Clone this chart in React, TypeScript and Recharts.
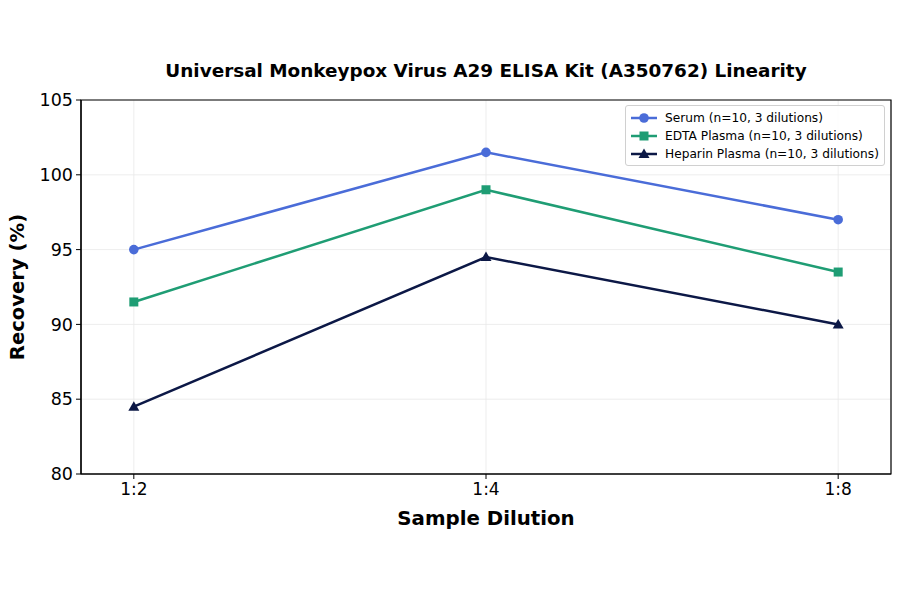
import {
  CartesianGrid,
  Label,
  Legend,
  Line,
  LineChart,
  ReferenceArea,
  XAxis,
  YAxis,
} from "recharts";

const DILUTIONS = ["1:2", "1:4", "1:8"];
const SERUM = [95, 101.5, 97];
const EDTA = [91.5, 99, 93.5];
const HEPARIN = [84.5, 94.5, 90];
const Y_TICKS = [80, 85, 90, 95, 100, 105];

const SERIES = [
  { key: "serum", name: "Serum (n=10, 3 dilutions)", color: "#4a6cd8", marker: "circle" },
  { key: "edta", name: "EDTA Plasma (n=10, 3 dilutions)", color: "#1f9d74", marker: "square" },
  { key: "heparin", name: "Heparin Plasma (n=10, 3 dilutions)", color: "#0c1846", marker: "triangle" },
];

// x is the category index; labels come from DILUTIONS
const DATA = DILUTIONS.map((d, i) => ({
  x: i,
  serum: SERUM[i],
  edta: EDTA[i],
  heparin: HEPARIN[i],
}));
const X_MIN = -0.15;
const X_MAX = DILUTIONS.length - 1 + 0.15;

const FONT = "'DejaVu Sans', sans-serif";

function Marker({ cx, cy, color, kind }: { cx: number; cy: number; color: string; kind: string }) {
  if (kind === "square")
    return <rect x={cx - 4.5} y={cy - 4.5} width={9} height={9} fill={color} />;
  if (kind === "triangle")
    return (
      <polygon
        points={`${cx},${cy - 5.5} ${cx - 5.5},${cy + 4} ${cx + 5.5},${cy + 4}`}
        fill={color}
      />
    );
  return <circle cx={cx} cy={cy} r={4.8} fill={color} />;
}

function LegendBox() {
  return (
    <div
      style={{
        display: "inline-block",
        border: "1px solid #d0d0d0",
        borderRadius: 3,
        background: "rgba(255,255,255,0.85)",
        padding: "3px 5px 2px 5px",
        fontFamily: FONT,
        fontSize: 12.2,
        color: "#000",
        whiteSpace: "nowrap",
      }}
    >
      {SERIES.map((s) => (
        <div key={s.key} style={{ display: "flex", alignItems: "center", height: 18 }}>
          <svg width={26} height={14} style={{ marginRight: 8 }}>
            <line x1={0} y1={7} x2={26} y2={7} stroke={s.color} strokeWidth={2.5} />
            <Marker cx={13} cy={7} color={s.color} kind={s.marker} />
          </svg>
          <span>{s.name}</span>
        </div>
      ))}
    </div>
  );
}

export default function App() {
  return (
    <div style={{ position: "relative", width: 900, height: 594, background: "#fff" }}>
      <style>{`body{margin:0}`}</style>
      <div
        style={{
          position: "absolute",
          left: 81,
          width: 810,
          top: 60,
          textAlign: "center",
          fontFamily: FONT,
          fontWeight: "bold",
          fontSize: 18.4,
          color: "#000",
          whiteSpace: "nowrap",
        }}
      >
        Universal Monkeypox Virus A29 ELISA Kit (A350762) Linearity
      </div>
      <LineChart
        width={900}
        height={594}
        data={DATA}
        margin={{ top: 100, right: 9, bottom: 0, left: 0 }}
        style={{ fontFamily: FONT }}
      >
        <CartesianGrid stroke="#e8e8e8" strokeWidth={0.8} />
        <XAxis
          dataKey="x"
          type="number"
          domain={[X_MIN, X_MAX]}
          ticks={DILUTIONS.map((_, i) => i)}
          tickFormatter={(v: number) => DILUTIONS[v] ?? ""}
          allowDataOverflow
          height={120}
          tickSize={5}
          tickMargin={4}
          tick={{ fill: "#000", fontSize: 17 }}
          axisLine={{ stroke: "#000", strokeWidth: 1.2 }}
          tickLine={{ stroke: "#000" }}
        >
          <Label
            value="Sample Dilution"
            position="insideTop"
            offset={37}
            style={{ fontWeight: "bold", fontSize: 19.8, fill: "#000" }}
          />
        </XAxis>
        <YAxis
          domain={[80, 105]}
          ticks={Y_TICKS}
          width={81}
          tickSize={5}
          tickMargin={3}
          tick={{ fill: "#000", fontSize: 17.5 }}
          axisLine={{ stroke: "#000", strokeWidth: 1.2 }}
          tickLine={{ stroke: "#000" }}
        >
          <Label
            content={(p: any) => {
              const vb = p.viewBox;
              const cy = vb.y + vb.height / 2;
              return (
                <text
                  x={17}
                  y={cy}
                  transform={`rotate(-90, 17, ${cy})`}
                  textAnchor="middle"
                  dominantBaseline="central"
                  style={{ fontWeight: "bold", fontSize: 19.6, fill: "#000", fontFamily: FONT }}
                >
                  Recovery (%)
                </text>
              );
            }}
          />
        </YAxis>
        <ReferenceArea
          x1={X_MIN}
          x2={X_MAX}
          y1={80}
          y2={105}
          fill="none"
          stroke="#000"
          strokeWidth={1.2}
          ifOverflow="visible"
        />
        <Legend
          layout="vertical"
          align="center"
          verticalAlign="middle"
          content={() => <LegendBox />}
          wrapperStyle={{ position: "absolute", top: 105, left: 625, width: "auto" }}
        />
        {SERIES.map((s) => (
          <Line
            key={s.key}
            dataKey={s.key}
            name={s.name}
            type="linear"
            stroke={s.color}
            strokeWidth={2.5}
            isAnimationActive={false}
            dot={(p: any) => (
              <Marker key={`${s.key}-${p.index}`} cx={p.cx} cy={p.cy} color={s.color} kind={s.marker} />
            )}
            activeDot={false}
          />
        ))}
      </LineChart>
    </div>
  );
}
